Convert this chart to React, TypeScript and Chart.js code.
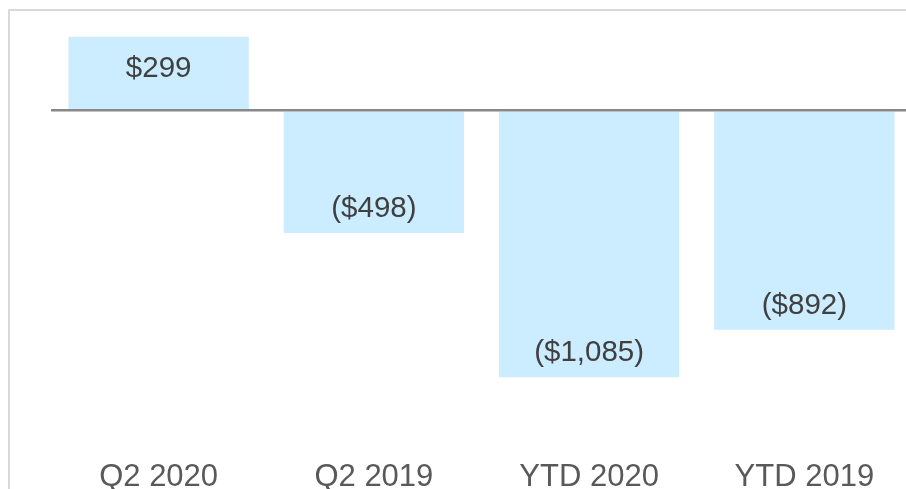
import React, { useEffect, useRef } from "react";
import { Chart, registerables } from "chart.js";

Chart.register(...registerables);

const categories = ["Q2 2020", "Q2 2019", "YTD 2020", "YTD 2019"];
const values = [299, -498, -1085, -892];
const valueLabels = ["$299", "($498)", "($1,085)", "($892)"];

const labelPlugin = {
  id: "barLabels",
  afterDatasetsDraw(chart: any) {
    const ctx = chart.ctx;
    const meta = chart.getDatasetMeta(0);
    ctx.save();
    ctx.font = '29.5px "Liberation Sans", Arial, sans-serif';
    ctx.fillStyle = "#404040";
    ctx.textAlign = "center";
    ctx.textBaseline = "middle";
    meta.data.forEach((el: any, i: number) => {
      const v = values[i];
      const y = v >= 0 ? el.y + 32 : el.y - 24;
      ctx.fillText(valueLabels[i], el.x, y);
    });
    ctx.restore();
  },
};

export default function App() {
  const ref = useRef<HTMLCanvasElement>(null);
  useEffect(() => {
    document.body.style.margin = "0";
    document.body.style.overflow = "hidden";
    document.documentElement.style.overflow = "hidden";
    const chart = new Chart(ref.current!, {
      type: "bar",
      data: {
        labels: categories,
        datasets: [
          {
            data: values,
            backgroundColor: "#CCECFF",
            borderWidth: 0,
            categoryPercentage: 1,
            barPercentage: 0.838,
          },
        ],
      },
      options: {
        animation: false,
        responsive: false,
        devicePixelRatio: 1,
        layout: { padding: { left: 51, right: 18, top: 12, bottom: 0 } },
        plugins: { legend: { display: false }, tooltip: { enabled: false } },
        scales: {
          x: {
            grid: { display: false, drawTicks: false },
            border: { display: false },
            ticks: {
              padding: 4,
              color: "#595959",
              font: { family: '"Liberation Sans", Arial, sans-serif', size: 31 },
            },
          },
          y: {
            min: -1400,
            max: 400,
            ticks: { display: false, stepSize: 200 },
            border: { display: false },
            grid: {
              drawTicks: false,
              color: (c: any) => (c.tick && c.tick.value === 0 ? "#888888" : "rgba(0,0,0,0)"),
              lineWidth: (c: any) => (c.tick && c.tick.value === 0 ? 2.5 : 0),
              z: 1,
            },
          },
        },
      },
      plugins: [labelPlugin],
    });
    return () => chart.destroy();
  }, []);
  return (
    <div style={{ position: "relative", width: 906, height: 489, overflow: "hidden", background: "#fff" }}>
      <div
        style={{
          position: "absolute",
          left: 8,
          top: 9,
          width: 1000,
          height: 1000,
          borderTop: "2px solid #d9d9d9",
          borderLeft: "2px solid #d9d9d9",
        }}
      />
      <canvas
        ref={ref}
        width={930}
        height={500}
        style={{ position: "absolute", left: 0, top: 0, width: 930, height: 500 }}
      />
    </div>
  );
}
